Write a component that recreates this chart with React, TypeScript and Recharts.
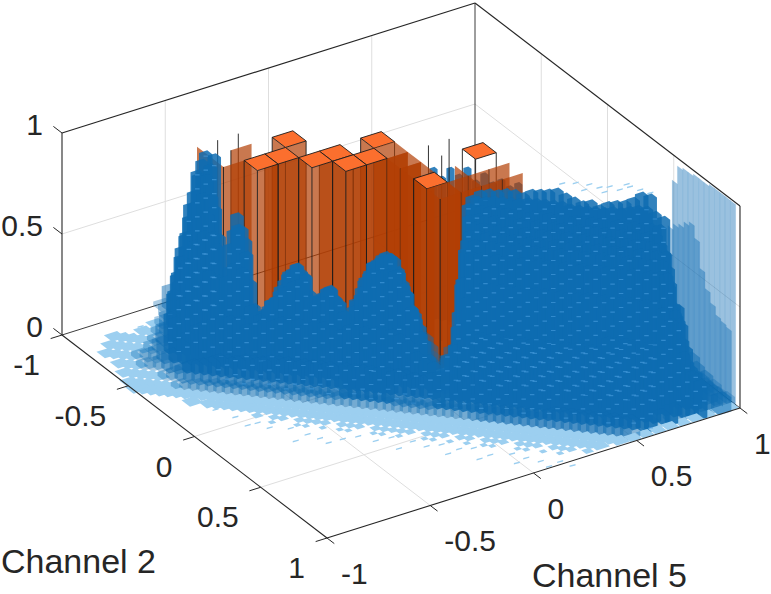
import { ScatterChart, Scatter, XAxis, YAxis } from "recharts";

// view of the 3-D box on the page: floor corner at channel5 = channel2 = -1, then one unit along each axis
const ORIGIN_X = 62;
const ORIGIN_Y = 335;
const U_X = 206.5;
const U_Y = -65;
const V_X = 132.5;
const V_Y = 101.5;
const W_Y = 202;

const channelTicks = [-1, -0.5, 0, 0.5, 1];
const heightTicks = [0, 0.5, 1];
const channel2Title = "Channel 2";
const channel5Title = "Channel 5";

// Blue histogram, sampled in strips that run along the Channel 2 = Channel 5 ridge.
// Every strip has an offset (channel2 - channel5), a first sample, and its heights.
const SAMPLE_STEP = 0.05;
const SAMPLE_FIRST = 0.3;

const tipsBack = [0.74, 0.7, 0.75, 0.72, 0.76, 0.7, 0.74, 0.7, 0.72, 0.69, 0.71];
const plateau55 = [0.66, 0.69, 0.7, 0.7, 0.71, 0.71, 0.7, 0.72, 0.725, 0.73, 0.74, 0.72, 0.705, 0.69, 0.7, 0.68, 0.7, 0.71, 0.715, 0.735, 0.765, 0.76, 0.72, 0.63];
const plateau45 = [0.66, 0.7, 0.7, 0.71, 0.71, 0.71, 0.71, 0.72, 0.72, 0.72, 0.72, 0.72, 0.71, 0.71, 0.71, 0.71, 0.71, 0.72, 0.72, 0.73, 0.74, 0.74, 0.72, 0.7, 0.45, 0.23];
const hill45 = [0.02, 0.1, 0.25, 0.45, 0.68, 0.78, 0.77];
const plateau35 = [0.48, 0.7, 0.7, 0.7, 0.7, 0.7, 0.7, 0.7, 0.7, 0.7, 0.7, 0.7, 0.7, 0.7, 0.7, 0.7, 0.7, 0.7, 0.7, 0.7, 0.7, 0.7, 0.7, 0.7, 0.5, 0.27, 0.15, 0.05];
const hill35 = [0.05, 0.2, 0.4, 0.62, 0.78, 0.76, 0.42];
const plateau25 = [0.35, 0.69, 0.7, 0.7, 0.7, 0.7, 0.7, 0.7, 0.7, 0.7, 0.7, 0.7, 0.7, 0.7, 0.7, 0.7, 0.7, 0.7, 0.7, 0.7, 0.7, 0.7, 0.7, 0.7, 0.62, 0.35, 0.27, 0.12, 0.07, 0.02];
const hill25 = [0.008, 0.03, 0.15, 0.38, 0.6, 0.75, 0.75, 0.6, 0.18];
const ridge15 = [
  0.008, 0.008, 0.02, 0.1, 0.3, 0.5, 0.65, 0.7, 0.7, 0.3, 0.35, 0.62, 0.5, 0.18,
  0.15, 0.21, 0.26, 0.35, 0.4, 0.36, 0.22, 0.26, 0.31, 0.24, 0.17, 0.26, 0.36, 0.45, 0.48, 0.5, 0.44, 0.33, 0.23, 0.12, 0.03, 0, 0.02, 0.18, 0.55,
  0.7, 0.7, 0.7, 0.7, 0.7, 0.7, 0.7, 0.7, 0.7, 0.7, 0.7, 0.7, 0.7, 0.7, 0.7, 0.7, 0.7, 0.7, 0.7, 0.7, 0.7, 0.7, 0.7,
  0.5, 0.4, 0.2, 0.12, 0.08, 0.04, 0.01,
];
const ridge05 = [
  0.008, 0.008, 0.008, 0.008, 0.008, 0.02, 0.08, 0.25, 0.42, 0.55, 0.62, 0.65, 0.5, 0.25, 0.58, 0.6, 0.34,
  0.17, 0.21, 0.27, 0.36, 0.42, 0.42, 0.32, 0.28, 0.34, 0.31, 0.24, 0.24, 0.33, 0.44, 0.51, 0.55, 0.53, 0.42, 0.3, 0.21, 0.12, 0.02, 0.01, 0.12, 0.46,
  0.7, 0.7, 0.7, 0.7, 0.7, 0.7, 0.7, 0.7, 0.7, 0.7, 0.7, 0.7, 0.7, 0.7, 0.7, 0.7, 0.7, 0.7, 0.7, 0.7, 0.7, 0.7, 0.7, 0.7,
  0.45, 0.28, 0.15, 0.11, 0.07, 0.05, 0.03, 0.005,
];
const front05 = [
  0.008, 0.008, 0.008, 0.008, 0.008, 0.03, 0.05, 0.18, 0.34, 0.45, 0.55, 0.6, 0.6, 0.33, 0.55, 0.65, 0.52,
  0.22, 0.24, 0.3, 0.37, 0.45, 0.49, 0.44, 0.31, 0.36, 0.39, 0.33, 0.26, 0.34, 0.46, 0.54, 0.58, 0.585, 0.51, 0.41, 0.29, 0.18, 0.08, 0.03, 0.1, 0.34,
  0.7, 0.7, 0.7, 0.7, 0.7, 0.7, 0.7, 0.7, 0.7, 0.7, 0.7, 0.7, 0.7, 0.7, 0.7, 0.7, 0.7, 0.7, 0.7, 0.7, 0.7, 0.7, 0.7, 0.7,
  0.6, 0.42, 0.22, 0.17, 0.13, 0.1, 0.07, 0.04,
];
const front15 = [
  0.008, 0.008, 0.008, 0.008, 0.02, 0.03, 0.05, 0.1, 0.2, 0.3, 0.4, 0.45, 0.45, 0.43, 0.43, 0.5, 0.48,
  0.3, 0.26, 0.31, 0.36, 0.41, 0.44, 0.46, 0.38, 0.39, 0.43, 0.39, 0.32, 0.35, 0.45, 0.54, 0.54, 0.55, 0.55, 0.49, 0.38, 0.26, 0.15, 0.08, 0.08, 0.22, 0.55,
  0.68, 0.68, 0.68, 0.68, 0.68, 0.68, 0.68, 0.68, 0.68, 0.68, 0.68, 0.68, 0.68, 0.68, 0.68, 0.68, 0.68, 0.68, 0.68, 0.68, 0.68, 0.68, 0.68, 0.68,
  0.5, 0.3, 0.21, 0.17, 0.13,
];
const front25 = [
  0.008, 0.008, 0.008, 0.02, 0.03, 0.05, 0.08, 0.13, 0.18, 0.22, 0.24, 0.26, 0.28, 0.28, 0.28,
  0.25, 0.26, 0.28, 0.28, 0.3, 0.3, 0.3, 0.28, 0.3, 0.3, 0.28, 0.27, 0.3, 0.3, 0.3, 0.3, 0.3, 0.3, 0.28, 0.25, 0.2, 0.17, 0.16, 0.11, 0.2, 0.36, 0.5, 0.55,
  0.58, 0.58, 0.58, 0.58, 0.58, 0.58, 0.58, 0.58, 0.58, 0.58, 0.58, 0.58, 0.58, 0.58, 0.58, 0.58, 0.58, 0.58, 0.58, 0.58, 0.58,
  0.55, 0.5, 0.38, 0.25,
];
const front35 = [
  0.008, 0.008, 0.008, 0.008, 0.008, 0.02, 0.04, 0.06, 0.08, 0.09, 0.1,
  0.12, 0.12, 0.12, 0.13, 0.13, 0.13, 0.14, 0.14, 0.14, 0.14, 0.14, 0.14, 0.14, 0.14, 0.14, 0.15, 0.15, 0.15, 0.15, 0.15, 0.15, 0.14, 0.14, 0.13, 0.12, 0.14, 0.16, 0.25, 0.3, 0.33,
  0.37, 0.37, 0.37, 0.37, 0.37, 0.37, 0.37, 0.37, 0.37, 0.37, 0.37, 0.37, 0.37, 0.37, 0.37, 0.37, 0.42, 0.42, 0.42, 0.42, 0.42, 0.42, 0.35,
];
const front45 = [
  0.008, 0.008, 0.008, 0.008, 0.008, 0.008, 0.02, 0.02, 0.03, 0.03, 0.04,
  0.04, 0.04, 0.04, 0.04, 0.04, 0.04, 0.04, 0.04, 0.05, 0.05, 0.05, 0.05, 0.05, 0.05, 0.05, 0.05, 0.05, 0.05, 0.05, 0.05, 0.05, 0.05, 0.05, 0.05, 0.05, 0.05, 0.05, 0.05, 0.05, 0.05,
  0.06, 0.06, 0.06, 0.06, 0.06, 0.06, 0.06, 0.06, 0.06, 0.08, 0.08, 0.08, 0.08, 0.08, 0.08, 0.08, 0.08, 0.08, 0.08, 0.12, 0.12, 0.12, 0.12, 0.12, 0.15,
];
const fringe52 = [
  0.008, 0.008, 0.008, 0.008, 0.008, 0.008, 0.008, 0.008, 0.008, 0.008, 0.008, 0.008, 0.008, 0.008, 0.008, 0.008, 0.008, 0.008, 0.008, 0.008, 0.008, 0.008, 0.008, 0.008, 0.008, 0.008, 0.008, 0.008, 0.008, 0.008,
  0.008, 0.008, 0.008, 0.008, 0.008, 0.008, 0.008, 0.008, 0.008, 0.008, 0.008, 0.008, 0.008, 0.008, 0.008, 0.008, 0.008, 0.008, 0.008, 0.008, 0.008, 0.008, 0.008, 0.008, 0.008, 0.008, 0.008, 0.008,
];
const fringe60 = [
  0.008, 0, 0.008, 0.008, 0.008, 0.008, 0.008, 0.008, 0.008, 0.008, 0.008, 0.008, 0.008, 0.008, 0.008, 0.008, 0.008, 0.008, 0.008, 0.008, 0.008, 0.008, 0.008, 0.008, 0.008, 0.008, 0.008, 0.008, 0.008, 0.008,
  0.008, 0.008, 0.008, 0.008, 0.008, 0.008, 0.008, 0.008, 0.008, 0.008, 0.008, 0.008, 0.008, 0.008, 0.008, 0.008, 0.008, 0.008, 0.008, 0.008,
];
const fringe68 = [
  0.008, 0, 0.008, 0.008, 0, 0.008, 0.008, 0.008, 0.008, 0, 0.008, 0.008, 0.008, 0, 0.008, 0.008, 0.008, 0.008, 0.008, 0, 0.008, 0.008, 0.008, 0, 0.008, 0.008, 0, 0.008, 0.008, 0.008,
  0, 0.008, 0.008, 0.008, 0, 0.008, 0.008, 0.008, 0, 0.008,
];
const fringe74 = [
  0.008, 0, 0, 0.008, 0.008, 0, 0.008, 0, 0.008, 0.008, 0, 0, 0.008, 0.008, 0, 0.008, 0, 0, 0.008, 0.008, 0, 0.008, 0, 0.008, 0, 0.008, 0.008, 0, 0, 0.008,
  0.008, 0, 0.008, 0, 0.008,
];

const blueStrips = [
  { offset: -0.55, first: 40, heights: plateau55 },
  { offset: -0.45, first: 40, heights: plateau45 },
  { offset: -0.45, first: 4, heights: hill45 },
  { offset: -0.35, first: 40, heights: plateau35 },
  { offset: -0.35, first: 5, heights: hill35 },
  { offset: -0.25, first: 40, heights: plateau25 },
  { offset: -0.25, first: 4, heights: hill25 },
  { offset: -0.15, first: 3, heights: ridge15 },
  { offset: -0.05, first: 0, heights: ridge05 },
  { offset: 0.05, first: 0, heights: front05 },
  { offset: 0.15, first: 0, heights: front15 },
  { offset: 0.25, first: 2, heights: front25 },
  { offset: 0.35, first: 3, heights: front35 },
  { offset: 0.45, first: 4, heights: front45 },
  { offset: 0.52, first: 5, heights: fringe52 },
  { offset: 0.6, first: 12, heights: fringe60 },
  { offset: 0.68, first: 20, heights: fringe68, tile: 0.019 },
  { offset: 0.74, first: 22, heights: fringe74, tile: 0.013 },
];

// Stray low bins beyond the edge of the mass, and the few above the plateau
const straySum = [1.05, 1.18, 1.32, 1.4, 1.52, 1.63, 1.71, 1.84, 1.92, 2.03, 2.11, 2.24, 2.33, 2.41, 2.52, 2.6, 2.71, 2.83, 2.92, 3.01, 3.12, 3.2, 1.27, 1.58, 1.77, 2.18, 2.47, 2.66, 2.88, 3.07, 0.42, 0.51, 0.55, 0.62];
const strayOffset = [0.66, 0.72, 0.76, 0.8, 0.78, 0.83, 0.86, 0.84, 0.79, 0.82, 0.76, 0.78, 0.82, 0.78, 0.81, 0.78, 0.84, 0.8, 0.83, 0.85, 0.83, 0.86, 0.8, 0.92, 0.9, 0.88, 0.88, 0.9, 0.9, 0.9, -0.2, -0.28, 0.4, 0.5];
const plateauStraySum = [2.82, 2.9, 2.98, 3.04, 3.1, 3.16, 3.22, 3.28, 3.34, 2.95, 3.07, 3.2];
const plateauStrayHeight = [0.76, 0.77, 0.77, 0.76, 0.77, 0.76, 0.78, 0.77, 0.76, 0.74, 0.74, 0.79];

// Low bins along the Channel 2 = 1 edge
const edgeChannel5 = [0.5, 0.56, 0.62, 0.68, 0.74, 0.8, 0.86, 0.92, 0.97];
const EDGE_CHANNEL2 = 0.97;
const edgeInnerChannel5 = [0.6, 0.66, 0.72, 0.78, 0.84, 0.9, 0.95];
const edgeInnerHeights = [0.04, 0.05, 0.06, 0.06, 0.05, 0.05, 0.04];
const EDGE_INNER_CHANNEL2 = 0.93;

// Two back sheets at the Channel 5 = 1 end
const sheetChannel2 = [0.52, 0.56, 0.6, 0.64, 0.68, 0.72, 0.76, 0.8, 0.84, 0.88, 0.92, 0.96];
const sheetOuter = [0.88, 0.97, 0.98, 0.98, 0.99, 0.99, 0.99, 1, 1, 1, 1, 1];
const sheetInner = [0.66, 0.69, 0.71, 0.74, 0.76, 0.7, 0.57, 0.49, 0.44, 0.4, 0.39, 0.38];

// Orange histogram, coarse bins: [channel5 bin, channel2 bin]
const ORANGE_TOP = 0.918;
const orangeCapped = [[6, 6], [7, 6], [8, 5], [8, 7], [9, 7], [9, 8], [10, 8], [11, 11]];
const orangeOpen = [[11, 8], [11, 9], [11, 10], [11, 12], [12, 12]];
const orangeFront = [[5, 5], [13, 11]];
const orangeLeftFace = [[5, 4]];
const orangeRightFace = [[6, 4], [14, 11], [13, 12], [14, 12]];
const orangeHalf = [[11, 7]];
const orangeHollow = [[14, 10]];
const orangeEdges = [[6, 3], [7, 3], [13, 8], [14, 8], [13, 9]];

const project = (u: number, v: number, w: number) => ({
  x: ORIGIN_X + (u + 1) * U_X + (v + 1) * V_X,
  y: ORIGIN_Y + (u + 1) * U_Y + (v + 1) * V_Y - w * W_Y,
});

const depth = (u: number, v: number) => (u + 1) * U_Y + (v + 1) * V_Y;

const fromStrip = (sum: number, offset: number) => ({
  u: (sum - offset) / 2 - 1,
  v: (sum + offset) / 2 - 1,
});

const blueColumns = (() => {
  const rows: any[] = [];
  blueStrips.forEach((strip) =>
    strip.heights.forEach((h, i) => {
      if (h <= 0) return;
      const { u, v } = fromStrip(SAMPLE_FIRST + (strip.first + i) * SAMPLE_STEP, strip.offset);
      if (u > 0.975 || v > 0.975) return;
      const half = h < 0.15 ? 0.03 : 0.02;
      rows.push({ ...project(u, v, 0), u, v, h, du: half, dv: half, offset: strip.offset, tile: strip.tile ?? 0.032 });
    }),
  );
  edgeChannel5.forEach((u) => {
    rows.push({ ...project(u, EDGE_CHANNEL2, 0), u, v: EDGE_CHANNEL2, h: 0.008, du: 0.02, dv: 0.02, tile: 0.028 });
  });
  edgeInnerChannel5.forEach((u, i) => {
    rows.push({ ...project(u, EDGE_INNER_CHANNEL2, 0), u, v: EDGE_INNER_CHANNEL2, h: edgeInnerHeights[i], du: 0.03, dv: 0.03 });
  });
  sheetChannel2.forEach((v, i) => {
    rows.push({ ...project(0.995, v, 0), u: 0.995, v, h: sheetOuter[i], du: 0.003, dv: 0.02, sheet: true });
    rows.push({ ...project(0.975, v, 0), u: 0.975, v, h: sheetInner[i], du: 0.003, dv: 0.02, sheet: true });
  });
  return rows.sort((a, b) => depth(a.u, a.v) - depth(b.u, b.v));
})();

// the small lighter marks on the blue mass sit on a few strips only
const speckleColumns = blueColumns.filter((c) => (c.offset === -0.45 || c.offset === 0.05 || c.offset === 0.35) && c.h > 0.1);

const backTips = tipsBack.map((h, i) => {
  const { u, v } = fromStrip(SAMPLE_FIRST + (35 + i) * SAMPLE_STEP, -0.65);
  return { ...project(u, v, 0), u, v, h, du: 0.012, dv: 0.012 };
});

const strayTiles = [
  ...straySum.map((s, i) => {
    const { u, v } = fromStrip(s, strayOffset[i]);
    return { ...project(u, v, 0), h: 0 };
  }),
  ...plateauStraySum.map((s, i) => {
    const { u, v } = fromStrip(s, -0.6);
    return { ...project(u, v, plateauStrayHeight[i]), h: 0 };
  }),
];

const ORANGE_BIN = 0.1;
const orangeCell = (bins: number[], mode: string) => {
  const u = -1 - 0.0236 + bins[0] * ORANGE_BIN + ORANGE_BIN / 2;
  const v = -1 - 0.0236 + bins[1] * ORANGE_BIN - ORANGE_BIN / 2;
  return { ...project(u, v, 0), u, v, mode };
};

const orangeColumns = [
  ...orangeOpen.map((b) => orangeCell(b, "open")),
  ...orangeFront.map((b) => orangeCell(b, "front")),
  ...orangeLeftFace.map((b) => orangeCell(b, "left")),
  ...orangeRightFace.map((b) => orangeCell(b, "right")),
  ...orangeEdges.map((b) => orangeCell(b, "edge")),
  ...orangeHollow.map((b) => orangeCell(b, "hollow")),
  ...orangeHalf.map((b) => orangeCell(b, "half")),
  ...orangeCapped.map((b) => orangeCell(b, "capped")),
].sort((a, b) => depth(a.u, a.v) - depth(b.u, b.v));

const corner = (cx: number, cy: number, su: number, sv: number, w: number) => [
  cx + su * U_X + sv * V_X,
  cy + su * U_Y + sv * V_Y - w * W_Y,
];
const poly = (pts: number[][]) => pts.map((p) => p.join(",")).join(" ");

const BLUE = "#0E6CB2";

function BlueColumn(props: any) {
  const { cx, cy, payload } = props;
  const { h, du, dv, sheet, tile } = payload;
  const l0 = corner(cx, cy, -du, -dv, 0);
  const f0 = corner(cx, cy, -du, dv, 0);
  const r0 = corner(cx, cy, du, dv, 0);
  const l1 = corner(cx, cy, -du, -dv, h);
  const f1 = corner(cx, cy, -du, dv, h);
  const r1 = corner(cx, cy, du, dv, h);
  const b1 = corner(cx, cy, du, -dv, h);
  if (h < 0.012) {
    const t = tile ?? 0.032;
    return <polygon points={poly([corner(cx, cy, -t, -t, 0), corner(cx, cy, -t, t, 0), corner(cx, cy, t, t, 0), corner(cx, cy, t, -t, 0)])} fill="#9CCFF0" />;
  }
  if (sheet) {
    return <polygon points={poly([l0, f0, f1, l1])} fill={BLUE} fillOpacity={0.42} stroke={BLUE} strokeOpacity={0.12} strokeWidth={0.6} />;
  }
  const opacity = h < 0.06 ? 0.35 : h < 0.15 ? 0.5 : 0.85;
  return <polygon points={poly([l0, f0, r0, r1, b1, l1])} fill={BLUE} fillOpacity={opacity} />;
}

function BlueSpeckle(props: any) {
  const { cx, cy, payload } = props;
  const { h, offset } = payload;
  // near the front only the lower part of a tall column is still in view
  const reach = offset === -0.45 ? h : offset === 0.05 && h >= 0.68 ? 0.22 : h;
  const topY = cy - reach * W_Y;
  const column = Math.round(cx / 8.475);
  const row = 0.28 * cx + (column % 2) * 7;
  return (
    <line
      x1={cx}
      y1={topY}
      x2={cx}
      y2={cy}
      stroke="#4A9FE0"
      strokeOpacity={0.6}
      strokeWidth={4.5}
      strokeDasharray="1.2 12.8"
      strokeDashoffset={topY - row}
    />
  );
}

function OrangeColumn(props: any) {
  const { cx, cy, payload } = props;
  const { mode } = payload;
  const half = ORANGE_BIN / 2;
  const l0 = corner(cx, cy, -half, -half, 0);
  const f0 = corner(cx, cy, -half, half, 0);
  const r0 = corner(cx, cy, half, half, 0);
  const b0 = corner(cx, cy, half, -half, 0);
  const l1 = corner(cx, cy, -half, -half, ORANGE_TOP);
  const f1 = corner(cx, cy, -half, half, ORANGE_TOP);
  const r1 = corner(cx, cy, half, half, ORANGE_TOP);
  const b1 = corner(cx, cy, half, -half, ORANGE_TOP);
  const side = { fill: "#B23E04", fillOpacity: 0.7 };
  const edge = { stroke: "#1c1c1c", strokeWidth: 0.9 };
  if (mode === "edge") {
    return <line x1={f0[0]} y1={f0[1]} x2={f1[0]} y2={f1[1]} {...edge} />;
  }
  const capped = mode === "capped" || mode === "half" || mode === "hollow";
  const hasLeft = mode !== "hollow" && mode !== "right";
  const hasRight = mode !== "hollow" && mode !== "half" && mode !== "left";
  return (
    <g>
      {mode === "open" && <polygon points={poly([b0, l0, l1, b1])} {...side} />}
      {mode === "open" && <polygon points={poly([r0, b0, b1, r1])} {...side} />}
      {hasLeft && <polygon points={poly([l0, f0, f1, l1])} {...side} />}
      {hasRight && <polygon points={poly([f0, r0, r1, f1])} {...side} />}
      {capped && <polygon points={poly([l1, f1, r1, b1])} fill="#FB6F2E" stroke="#1c1c1c" strokeWidth={0.9} />}
      <line x1={f0[0]} y1={f0[1]} x2={f1[0]} y2={f1[1]} {...edge} />
      {capped && <line x1={l0[0]} y1={l0[1]} x2={l1[0]} y2={l1[1]} {...edge} />}
      {capped && <line x1={r0[0]} y1={r0[1]} x2={r1[0]} y2={r1[1]} {...edge} />}
    </g>
  );
}

function StrayTile(props: any) {
  const { cx, cy } = props;
  return <polygon points={poly([[cx - 3, cy + 0.6], [cx + 3, cy - 1], [cx + 3, cy + 0.4], [cx - 3, cy + 2]])} fill="#9CCFF0" />;
}

function Label(props: any) {
  const { cx, cy, payload } = props;
  return (
    <text x={cx} y={cy} textAnchor={payload.anchor} dominantBaseline="central" fontFamily="Liberation Sans" fontSize={payload.size} fill="#262626">
      {payload.label}
    </text>
  );
}

const BOX = "#262626";
const GRID = "#dedede";
const seg = (a: number[], b: number[]) => [project(a[0], a[1], a[2]), project(b[0], b[1], b[2])];

const inner = channelTicks.slice(1, -1);
const gridLines = [
  ...inner.map((t) => seg([t, -1, 0], [t, 1, 0])),
  ...inner.map((t) => seg([-1, t, 0], [1, t, 0])),
  ...inner.map((t) => seg([t, -1, 0], [t, -1, 1])),
  ...inner.map((t) => seg([1, t, 0], [1, t, 1])),
  seg([-1, -1, 0.5], [1, -1, 0.5]),
  seg([1, -1, 0.5], [1, 1, 0.5]),
];
const backLines = [
  seg([-1, -1, 0], [1, -1, 0]),
  seg([1, -1, 0], [1, 1, 0]),
  seg([1, -1, 0], [1, -1, 1]),
];
const frontLines = [
  seg([-1, -1, 1], [1, -1, 1]),
  seg([1, -1, 1], [1, 1, 1]),
  seg([-1, -1, 0], [-1, -1, 1]),
  seg([1, 1, 0], [1, 1, 1]),
  seg([-1, -1, 0], [-1, 1, 0]),
  seg([-1, 1, 0], [1, 1, 0]),
];
const tickLen = 0.055;
const tickLines = [
  ...heightTicks.map((t) => seg([-1, -1, t], [-1, -1 - 0.065, t])),
  ...channelTicks.map((t) => seg([-1, t, 0], [-1 - tickLen, t, 0])),
  ...channelTicks.map((t) => seg([t, 1, 0], [t, 1 + tickLen, 0])),
];

const labels = [
  ...heightTicks.map((t) => {
    const p = project(-1, -1, t);
    return { x: p.x - 19, y: p.y - 9, label: String(t), anchor: "end", size: 30 };
  }),
  ...channelTicks.map((t) => {
    const p = project(-1, t, 0);
    return { x: p.x - 22, y: p.y + 29.5, label: String(t), anchor: "end", size: 30 };
  }),
  ...channelTicks.map((t) => {
    const p = project(t, 1, 0);
    return { x: p.x + 14, y: p.y + 35, label: String(t), anchor: "start", size: 30 };
  }),
  { x: 1, y: 561, label: channel2Title, anchor: "start", size: 34 },
  { x: 532, y: 575, label: channel5Title, anchor: "start", size: 34 },
];

const noDot = () => <g />;

function lineSeries(lines: any[][], color: string, width: number, prefix: string) {
  return lines.map((data, i) => (
    <Scatter
      key={prefix + i}
      data={data}
      line={{ stroke: color, strokeWidth: width }}
      lineType="joint"
      shape={noDot}
      isAnimationActive={false}
    />
  ));
}

export default function App() {
  return (
    <div style={{ position: "absolute", left: 0, top: 0, background: "#fff" }}>
      <ScatterChart width={771} height={594} margin={{ top: 0, right: 0, bottom: 0, left: 0 }}>
        <XAxis type="number" dataKey="x" domain={[0, 771]} hide allowDataOverflow />
        <YAxis type="number" dataKey="y" domain={[0, 594]} reversed hide allowDataOverflow />
        {lineSeries(gridLines, GRID, 1, "grid")}
        {lineSeries(backLines, BOX, 0.9, "back")}
        <Scatter data={strayTiles} shape={StrayTile} isAnimationActive={false} />
        <Scatter data={backTips} shape={BlueColumn} isAnimationActive={false} />
        <Scatter data={orangeColumns} shape={OrangeColumn} isAnimationActive={false} />
        <Scatter data={blueColumns} shape={BlueColumn} isAnimationActive={false} />
        <Scatter data={speckleColumns} shape={BlueSpeckle} isAnimationActive={false} />
        {lineSeries(frontLines, BOX, 1.1, "box")}
        {lineSeries(tickLines, BOX, 1, "tick")}
        <Scatter data={labels} shape={Label} isAnimationActive={false} />
      </ScatterChart>
    </div>
  );
}
